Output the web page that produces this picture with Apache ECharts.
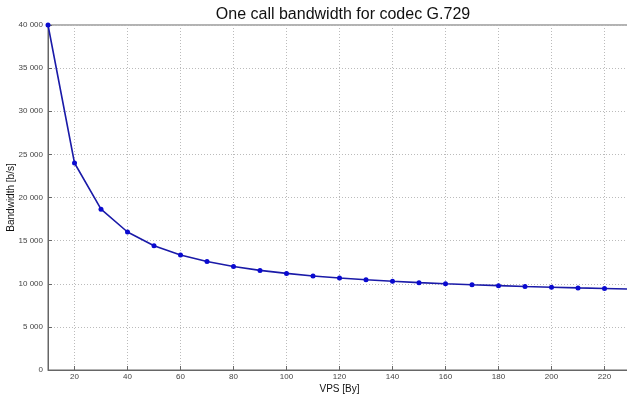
<!DOCTYPE html>
<html>
<head>
<meta charset="utf-8">
<script src="https://cdn.jsdelivr.net/npm/echarts@6/dist/echarts.min.js"></script>
<style>
html, body { margin: 0; padding: 0; background: #fff; }
#mychart { width: 627px; height: 396px; }
</style>
</head>
<body>
<div id="mychart"></div>
<script>
// VPS [By] values
var vps = [10, 20, 30, 40, 50, 60, 70, 80, 90, 100, 110, 120, 130, 140, 150, 160, 170, 180, 190, 200, 210, 220, 230];
// bandwidth [b/s]
var bandwidth = [40000, 24000, 18650, 16000, 14400, 13330, 12570, 12000, 11550, 11200, 10900, 10670, 10460, 10290, 10130, 10000, 9880, 9780, 9680, 9600, 9520, 9450, 9390];
var xTicks = [20, 40, 60, 80, 100, 120, 140, 160, 180, 200, 220];

var points = [];
for (var i = 0; i < vps.length; i++) {
    points.push([vps[i], bandwidth[i]]);
}

//千位空格
function fmt(v) {
    return String(v).replace(/\B(?=(\d{3})+(?!\d))/g, ' ');
}

var myChart = echarts.init(document.getElementById('mychart'));
myChart.setOption({
    animation: false,
    title: {
        text: 'One call bandwidth for codec G.729',
        left: 338,
        textAlign: 'center',
        top: 2,
        textStyle: { fontFamily: 'Liberation Sans', fontSize: 16, fontWeight: 'normal', color: '#111' }
    },
    grid: {
        left: 48,
        right: -4,
        top: 25,
        bottom: 26,
        outerBoundsMode: 'none',
        containLabel: false,
        show: true,
        borderColor: '#666',
        borderWidth: 1
    },
    xAxis: {
        type: 'value',
        min: 10,
        max: 230,
        name: 'VPS [By]',
        nameLocation: 'middle',
        nameGap: 14,
        nameMoveOverlap: false,
        nameTextStyle: { fontFamily: 'Liberation Sans', fontSize: 10, color: '#111', verticalAlign: 'top' },
        axisLine: { lineStyle: { color: '#666' } },
        axisTick: { inside: true, length: 4, customValues: xTicks, lineStyle: { color: '#666' } },
        axisLabel: { customValues: xTicks, fontFamily: 'Liberation Sans', fontSize: 8, color: '#444', margin: 3 },
        splitLine: { show: true, lineStyle: { color: '#bbb', type: [1, 2], width: 1 } }
    },
    yAxis: {
        type: 'value',
        min: 0,
        max: 40000,
        interval: 5000,
        name: 'Bandwidth [b/s]',
        nameLocation: 'middle',
        nameGap: 32,
        nameMoveOverlap: false,
        nameTextStyle: { fontFamily: 'Liberation Sans', fontSize: 10, color: '#111' },
        axisLine: { show: true, lineStyle: { color: '#666' } },
        axisTick: { show: true, inside: true, length: 4, lineStyle: { color: '#666' } },
        axisLabel: {
            fontFamily: 'Liberation Sans', fontSize: 8, color: '#444', margin: 5,
            formatter: function (v) { return fmt(v); }
        },
        splitLine: { show: true, lineStyle: { color: '#bbb', type: [1, 2], width: 1 } }
    },
    series: [
        {
            name: 'G.729',
            type: 'line',
            data: points,
            symbol: 'circle',
            symbolSize: 5,
            clip: true,
            lineStyle: { color: '#1a1aa8', width: 1.6 },
            itemStyle: { color: '#0a0ad0' }
        }
    ]
});
</script>
</body>
</html>
